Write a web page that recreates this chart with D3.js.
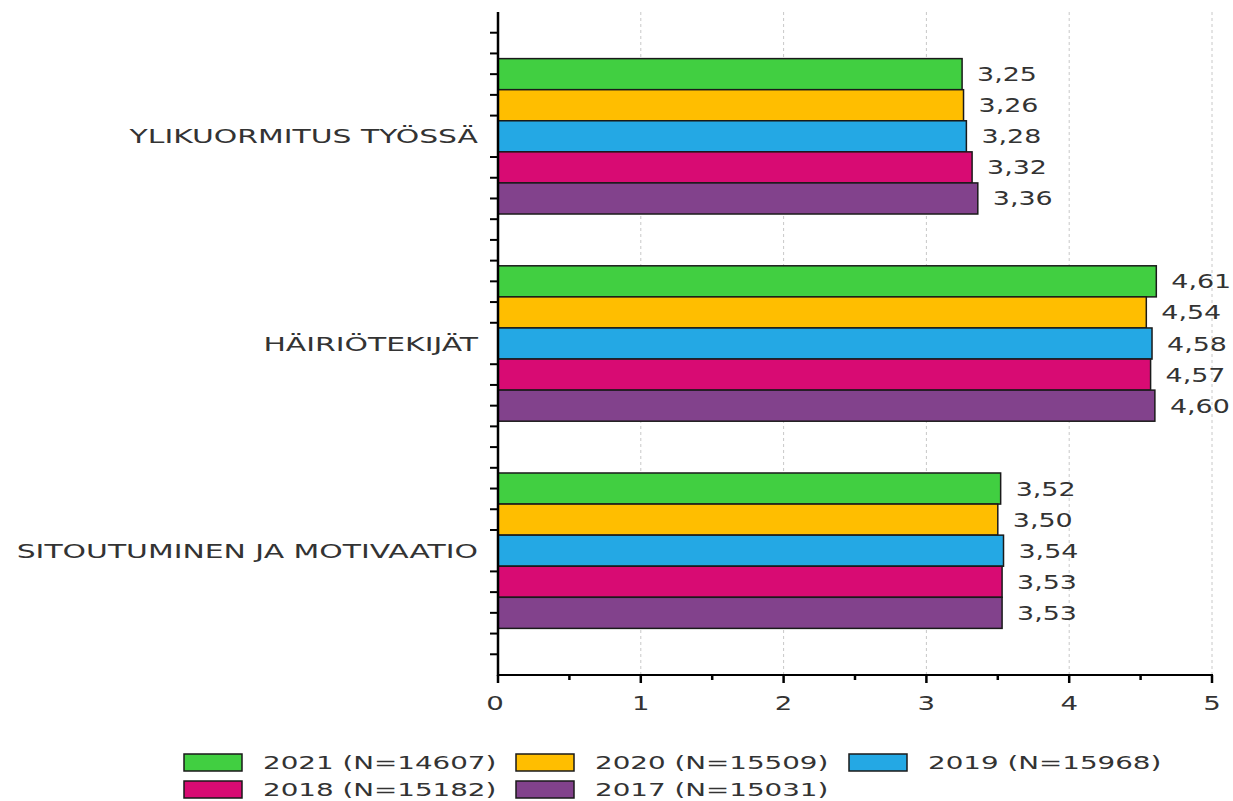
<!DOCTYPE html>
<html><head><meta charset="utf-8">
<script src="https://cdn.jsdelivr.net/npm/d3@7"></script>
<style>body{margin:0;background:#fff}svg{display:block}text{font-family:"DejaVu Sans",Verdana,sans-serif;fill:#333}</style>
</head><body>
<svg id="c" width="1233" height="801"></svg>
<script>
const categories = ["YLIKUORMITUS TYÖSSÄ", "HÄIRIÖTEKIJÄT", "SITOUTUMINEN JA MOTIVAATIO"];
const seriesNames = ["2021 (N=14607)", "2020 (N=15509)", "2019 (N=15968)", "2018 (N=15182)", "2017 (N=15031)"];
const v2021 = [3.25, 4.61, 3.52];
const v2020 = [3.26, 4.54, 3.50];
const v2019 = [3.28, 4.58, 3.54];
const v2018 = [3.32, 4.57, 3.53];
const v2017 = [3.36, 4.60, 3.53];
const seriesValues = [v2021, v2020, v2019, v2018, v2017];
const colors = ["#41cf41", "#ffbe00", "#24a8e4", "#d80b73", "#82428c"];
const xTicks = [0, 1, 2, 3, 4, 5];

(function () {
const svg = d3.select("#c");
const SX = 1.38, SXC = 1.53, SXL = 1.5; // horizontal text stretch
const pL = 498, pR = 1212, pT = 12, pB = 675;
const x = d3.scaleLinear().domain([0, 5]).range([pL, pR]);
const yUnits = d3.scaleLinear().domain([0, 32]).range([pT, pB]);
const y = d3.scaleBand().domain(categories).range([yUnits(1), yUnits(31)]).paddingInner(0).paddingOuter(0);
const barsH = yUnits(7.5) - yUnits(0);
const yInner = d3.scaleBand().domain(seriesNames)
  .range([y.bandwidth() / 2 - barsH / 2, y.bandwidth() / 2 + barsH / 2]);

// gridlines
svg.append("g").selectAll("line").data(xTicks.filter(d => d > 0)).join("line")
  .attr("x1", d => x(d)).attr("x2", d => x(d)).attr("y1", pT).attr("y2", pB)
  .attr("stroke", "#c8c8c8").attr("stroke-width", 1).attr("stroke-dasharray", "3,3");

// bars
const data = [];
categories.forEach((c, i) => seriesNames.forEach((s, j) => data.push({c, s, j, v: seriesValues[j][i]})));
svg.append("g").selectAll("rect").data(data).join("rect")
  .attr("x", x(0)).attr("y", d => y(d.c) + yInner(d.s))
  .attr("width", d => x(d.v) - x(0)).attr("height", yInner.bandwidth())
  .attr("fill", d => colors[d.j]).attr("stroke", "#1a1a1a").attr("stroke-width", 1.5);

// value labels
svg.append("g").selectAll("text").data(data).join("text")
  .attr("transform", d => `translate(${x(d.v) + 15},${y(d.c) + yInner(d.s) + yInner.bandwidth() / 2}) scale(${SX},1)`)
  .attr("dy", "0.36em").attr("font-size", 19.5).text(d => d3.format(".2f")(d.v).replace(".", ","));

// y axis minor ticks
const yTickVals = d3.range(1, 32).filter(k => (k - 6) % 10 !== 0);
svg.append("g").selectAll("line").data(yTickVals).join("line")
  .attr("x1", pL - 8).attr("x2", pL).attr("y1", d => yUnits(d)).attr("y2", d => yUnits(d))
  .attr("stroke", "#000").attr("stroke-width", 2);
// x axis ticks
svg.append("g").selectAll("line").data(d3.range(0, 5.01, 0.5)).join("line")
  .attr("x1", d => x(d)).attr("x2", d => x(d)).attr("y1", pB)
  .attr("y2", d => pB + (Number.isInteger(d) ? 8 : 5))
  .attr("stroke", "#000").attr("stroke-width", 2.5);
// axis lines
svg.append("line").attr("x1", pL).attr("x2", pL).attr("y1", pT).attr("y2", pB + 1)
  .attr("stroke", "#000").attr("stroke-width", 2.5);
svg.append("line").attr("x1", pL - 1).attr("x2", pR + 1).attr("y1", pB).attr("y2", pB)
  .attr("stroke", "#000").attr("stroke-width", 2);

// x tick labels
svg.append("g").selectAll("text").data(xTicks).join("text")
  .attr("transform", d => `translate(${x(d) - (d === 0 ? 3 : 0)},710) scale(${SX},1)`)
  .attr("text-anchor", "middle").attr("font-size", 20).text(d => d);

// category labels
svg.append("g").selectAll("text").data(categories).join("text")
  .attr("transform", d => `translate(${pL - 20},${y(d) + y.bandwidth() / 2}) scale(${SXC},1)`)
  .attr("text-anchor", "end").attr("dy", "0.36em").attr("font-size", 19.5).text(d => d);

// legend
const lx = [184, 516, 849], ly = [762, 789];
const lg = svg.append("g").selectAll("g").data(seriesNames).join("g")
  .attr("transform", (d, i) => `translate(${lx[i % 3]},${ly[Math.floor(i / 3)]})`);
lg.append("rect").attr("x", 0).attr("y", -8).attr("width", 58).attr("height", 17)
  .attr("fill", (d, i) => colors[i]).attr("stroke", "#1a1a1a").attr("stroke-width", 1.5);
lg.append("text").attr("transform", `translate(79,0) scale(${SXL},1)`).attr("dy", "0.36em")
  .attr("font-size", 18.5).text(d => d);
})();
</script>
</body></html>
